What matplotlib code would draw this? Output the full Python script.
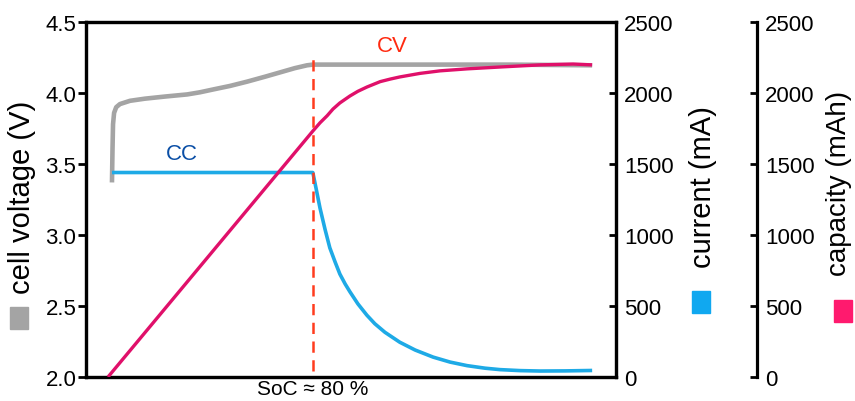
import numpy as np
import matplotlib.pyplot as plt

plt.rcParams['font.family'] = ['Liberation Sans', 'DejaVu Sans']

# time axis in arbitrary units (0..100), no tick values shown
t_switch = 42.8
switch_label = u"SoC \u2248 80 %"

# cell voltage (V)
t_volt = [4.9, 5.0, 5.1, 5.3, 5.7, 6.4, 8.3, 11.1, 14.9, 19.1, 21.5, 24.0, 27.2, 30.4,
          33.8, 36.6, 39.4, 41.7, 42.8, 60.0, 80.0, 95.5]
volt = [3.37, 3.60, 3.78, 3.86, 3.90, 3.922, 3.945, 3.96, 3.975, 3.99, 4.005, 4.025, 4.05, 4.08,
        4.115, 4.145, 4.175, 4.195, 4.20, 4.20, 4.20, 4.195]

# current (mA)
t_cur = [4.9, 42.8, 43.4, 44.15, 45.1, 46.0, 47.0, 47.9, 48.9, 49.8, 51.3, 53.0, 54.5, 56.4,
         59.2, 62.1, 65.5, 68.7, 71.9, 75.3, 78.1, 81.9, 85.7, 90.4, 95.5]
cur = [1440, 1440, 1330, 1190, 1040, 910, 810, 725, 655, 600, 515, 435, 375, 315,
       245, 190, 140, 105, 80, 62, 52, 45, 42, 43, 46]

# capacity (mAh)
t_cap = [4.15, 42.8, 44.15, 45.5, 46.6, 47.9, 49.8, 51.3, 53.0, 55.5, 57.4, 59.2, 63.0,
         66.8, 71.9, 78.1, 85.7, 91.9, 95.5]
cap = [0, 1732, 1790, 1840, 1887, 1930, 1979, 2012, 2042, 2080, 2098, 2113, 2138,
       2156, 2170, 2183, 2198, 2204, 2198]

volt_ticks = [2.0, 2.5, 3.0, 3.5, 4.0, 4.5]
ma_ticks = [0, 500, 1000, 1500, 2000, 2500]

c_volt = '#a4a4a4'
c_cur = '#1eaae6'
c_cap = '#e0106a'
c_dash = '#ff3c1e'

W, H = 855, 402
fig = plt.figure(figsize=(W / 100.0, H / 100.0), dpi=100)
ax = fig.add_axes([86.0 / W, 1 - 378.0 / H, 530.0 / W, 355.0 / H])
ax2 = ax.twinx()
ax3 = ax.twinx()

ax.plot(t_volt, volt, color=c_volt, lw=3.3, solid_capstyle='butt')
ax2.plot(t_cur, cur, color=c_cur, lw=2.6, solid_capstyle='butt')
ax3.plot(t_cap, cap, color=c_cap, lw=2.4, solid_capstyle='butt')
ax3.vlines(t_switch, 42, 2240, colors=c_dash, linestyles=(0, (4.5, 3)), lw=1.8)

ax.set_xlim(0, 100)
ax.set_ylim(2.0, 4.5)
ax2.set_ylim(0, 2500)
ax3.set_ylim(0, 2500)

for a in (ax, ax2):
    for s in a.spines.values():
        s.set_linewidth(2.3)

ax.set_yticks(volt_ticks)
ax.set_yticklabels(['%.1f' % v for v in volt_ticks])
ax.tick_params(axis='y', direction='out', length=6, width=2, labelsize=16, pad=1)
ax.set_xticks([t_switch])
ax.set_xticklabels([switch_label])
ax.tick_params(axis='x', length=0, labelsize=15, pad=1.5)

ax2.set_yticks(ma_ticks)
ax2.tick_params(axis='y', direction='in', length=5, width=2, labelsize=16, pad=6)

ax3.spines['right'].set_position(('axes', (757.0 - 86.0) / 530.0))
ax3.spines['right'].set_linewidth(2.3)
for k in ('left', 'top', 'bottom'):
    ax3.spines[k].set_visible(False)
ax3.set_yticks(ma_ticks)
ax3.tick_params(axis='y', direction='in', length=5, width=2, labelsize=16, pad=6)

# axis labels with coloured squares
def fx(px):
    return px / float(W)

def fy(py):
    return 1 - py / float(H)

fig.text(fx(22), fy(197), 'cell voltage (V)', rotation=90, ha='center', va='center', fontsize=21)
fig.text(fx(703), fy(187), 'current (mA)', rotation=90, ha='center', va='center', fontsize=21)
fig.text(fx(839), fy(183), 'capacity (mAh)', rotation=90, ha='center', va='center', fontsize=20)
for px, py, c in [(19, 319, c_volt), (701, 303, '#10a8f0'), (843, 312, '#ff1a6e')]:
    fig.patches.append(plt.Rectangle((fx(px - 9), fy(py + 11)), 18.0 / W, 22.0 / H,
                                     transform=fig.transFigure, color=c, figure=fig))

ax3.text((182 - 86) / 530.0, 1 - (154 - 23) / 355.0, 'CC', color='#0b4fa6',
         fontsize=16, ha='center', va='center', transform=ax.transAxes)
ax3.text((392 - 86) / 530.0, 1 - (47 - 23) / 355.0, 'CV', color='#ff2a10',
         fontsize=16, ha='center', va='center', transform=ax.transAxes)

fig.savefig('out.png', dpi=100)
